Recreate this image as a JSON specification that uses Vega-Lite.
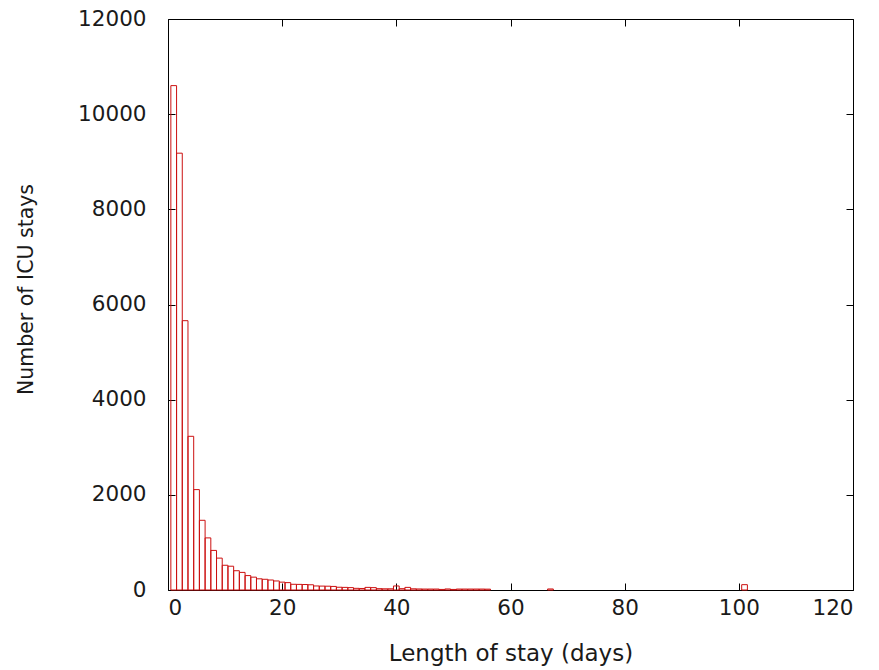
{
  "$schema": "https://vega.github.io/schema/vega-lite/v6.json",
  "width": 685,
  "height": 571,
  "autosize": "none",
  "padding": {"left": 168, "top": 19, "right": 26, "bottom": 80},
  "background": "white",
  "config": {
    "view": {"stroke": "#000000", "strokeWidth": 1},
    "font": "DejaVu Sans",
    "axis": {
      "grid": false,
      "domain": false,
      "tickColor": "#000000",
      "tickWidth": 1,
      "labelColor": "#1a1a1a",
      "labelFont": "DejaVu Sans",
      "labelFontSize": 21.5,
      "titleFont": "DejaVu Sans",
      "titleFontSize": 23,
      "titleFontWeight": "normal",
      "titleColor": "#1a1a1a",
      "format": "d"
    }
  },
  "data": {
    "values": [
      {"day": 1, "start": 0.5, "end": 1.5, "count": 10600},
      {"day": 2, "start": 1.5, "end": 2.5, "count": 9180},
      {"day": 3, "start": 2.5, "end": 3.5, "count": 5660},
      {"day": 4, "start": 3.5, "end": 4.5, "count": 3230},
      {"day": 5, "start": 4.5, "end": 5.5, "count": 2110},
      {"day": 6, "start": 5.5, "end": 6.5, "count": 1465},
      {"day": 7, "start": 6.5, "end": 7.5, "count": 1095},
      {"day": 8, "start": 7.5, "end": 8.5, "count": 832},
      {"day": 9, "start": 8.5, "end": 9.5, "count": 670},
      {"day": 10, "start": 9.5, "end": 10.5, "count": 520},
      {"day": 11, "start": 10.5, "end": 11.5, "count": 500},
      {"day": 12, "start": 11.5, "end": 12.5, "count": 405},
      {"day": 13, "start": 12.5, "end": 13.5, "count": 370},
      {"day": 14, "start": 13.5, "end": 14.5, "count": 303},
      {"day": 15, "start": 14.5, "end": 15.5, "count": 270},
      {"day": 16, "start": 15.5, "end": 16.5, "count": 235},
      {"day": 17, "start": 16.5, "end": 17.5, "count": 225},
      {"day": 18, "start": 17.5, "end": 18.5, "count": 210},
      {"day": 19, "start": 18.5, "end": 19.5, "count": 190},
      {"day": 20, "start": 19.5, "end": 20.5, "count": 165},
      {"day": 21, "start": 20.5, "end": 21.5, "count": 155},
      {"day": 22, "start": 21.5, "end": 22.5, "count": 120},
      {"day": 23, "start": 22.5, "end": 23.5, "count": 118},
      {"day": 24, "start": 23.5, "end": 24.5, "count": 115},
      {"day": 25, "start": 24.5, "end": 25.5, "count": 110},
      {"day": 26, "start": 25.5, "end": 26.5, "count": 85},
      {"day": 27, "start": 26.5, "end": 27.5, "count": 82},
      {"day": 28, "start": 27.5, "end": 28.5, "count": 80},
      {"day": 29, "start": 28.5, "end": 29.5, "count": 75},
      {"day": 30, "start": 29.5, "end": 30.5, "count": 58},
      {"day": 31, "start": 30.5, "end": 31.5, "count": 55},
      {"day": 32, "start": 31.5, "end": 32.5, "count": 50},
      {"day": 33, "start": 32.5, "end": 33.5, "count": 35},
      {"day": 34, "start": 33.5, "end": 34.5, "count": 32},
      {"day": 35, "start": 34.5, "end": 35.5, "count": 55},
      {"day": 36, "start": 35.5, "end": 36.5, "count": 50},
      {"day": 37, "start": 36.5, "end": 37.5, "count": 28},
      {"day": 38, "start": 37.5, "end": 38.5, "count": 25},
      {"day": 39, "start": 38.5, "end": 39.5, "count": 25},
      {"day": 40, "start": 39.5, "end": 40.5, "count": 85},
      {"day": 41, "start": 40.5, "end": 41.5, "count": 28},
      {"day": 42, "start": 41.5, "end": 42.5, "count": 55},
      {"day": 43, "start": 42.5, "end": 43.5, "count": 25},
      {"day": 44, "start": 43.5, "end": 44.5, "count": 22},
      {"day": 45, "start": 44.5, "end": 45.5, "count": 20},
      {"day": 46, "start": 45.5, "end": 46.5, "count": 20},
      {"day": 47, "start": 46.5, "end": 47.5, "count": 20},
      {"day": 48, "start": 47.5, "end": 48.5, "count": 12},
      {"day": 49, "start": 48.5, "end": 49.5, "count": 22},
      {"day": 50, "start": 49.5, "end": 50.5, "count": 12},
      {"day": 51, "start": 50.5, "end": 51.5, "count": 20},
      {"day": 52, "start": 51.5, "end": 52.5, "count": 20},
      {"day": 53, "start": 52.5, "end": 53.5, "count": 20},
      {"day": 54, "start": 53.5, "end": 54.5, "count": 20},
      {"day": 55, "start": 54.5, "end": 55.5, "count": 20},
      {"day": 56, "start": 55.5, "end": 56.5, "count": 18},
      {"day": 67, "start": 66.5, "end": 67.5, "count": 22},
      {"day": 101, "start": 100.5, "end": 101.5, "count": 112}
    ]
  },
  "layer": [
    {
      "mark": {"type": "rect", "fill": "white", "fillOpacity": 0, "stroke": "#cc1111", "strokeWidth": 1},
      "encoding": {
        "x": {
          "field": "start", "type": "quantitative",
          "scale": {"domain": [0, 120], "nice": false, "zero": false},
          "axis": {"orient": "bottom", "values": [0, 20, 40, 60, 80, 100, 120], "tickSize": -7, "labelPadding": 14, "title": "Length of stay (days)", "titlePadding": 24}
        },
        "x2": {"field": "end"},
        "y": {
          "field": "count", "type": "quantitative",
          "scale": {"domain": [0, 12000], "nice": false},
          "axis": {"orient": "left", "values": [0, 2000, 4000, 6000, 8000, 10000, 12000], "tickSize": -7, "labelPadding": 29, "title": "Number of ICU stays", "titleFontSize": 20.5, "titleX": -142, "titleY": 270, "titleBaseline": "middle", "titleAlign": "center", "titleAngle": -90}
        },
        "y2": {"datum": 0}
      }
    },
    {
      "mark": {"type": "rect", "opacity": 0},
      "encoding": {
        "x": {
          "field": "start", "type": "quantitative",
          "scale": {"domain": [0, 120], "nice": false, "zero": false},
          "axis": {"orient": "top", "values": [0, 20, 40, 60, 80, 100, 120], "tickSize": -7, "labels": false, "title": null}
        },
        "x2": {"field": "end"},
        "y": {
          "field": "count", "type": "quantitative",
          "scale": {"domain": [0, 12000], "nice": false},
          "axis": {"orient": "right", "values": [0, 2000, 4000, 6000, 8000, 10000, 12000], "tickSize": -7, "labels": false, "title": null}
        },
        "y2": {"datum": 0}
      }
    }
  ],
  "resolve": {"axis": {"x": "independent", "y": "independent"}}
}
